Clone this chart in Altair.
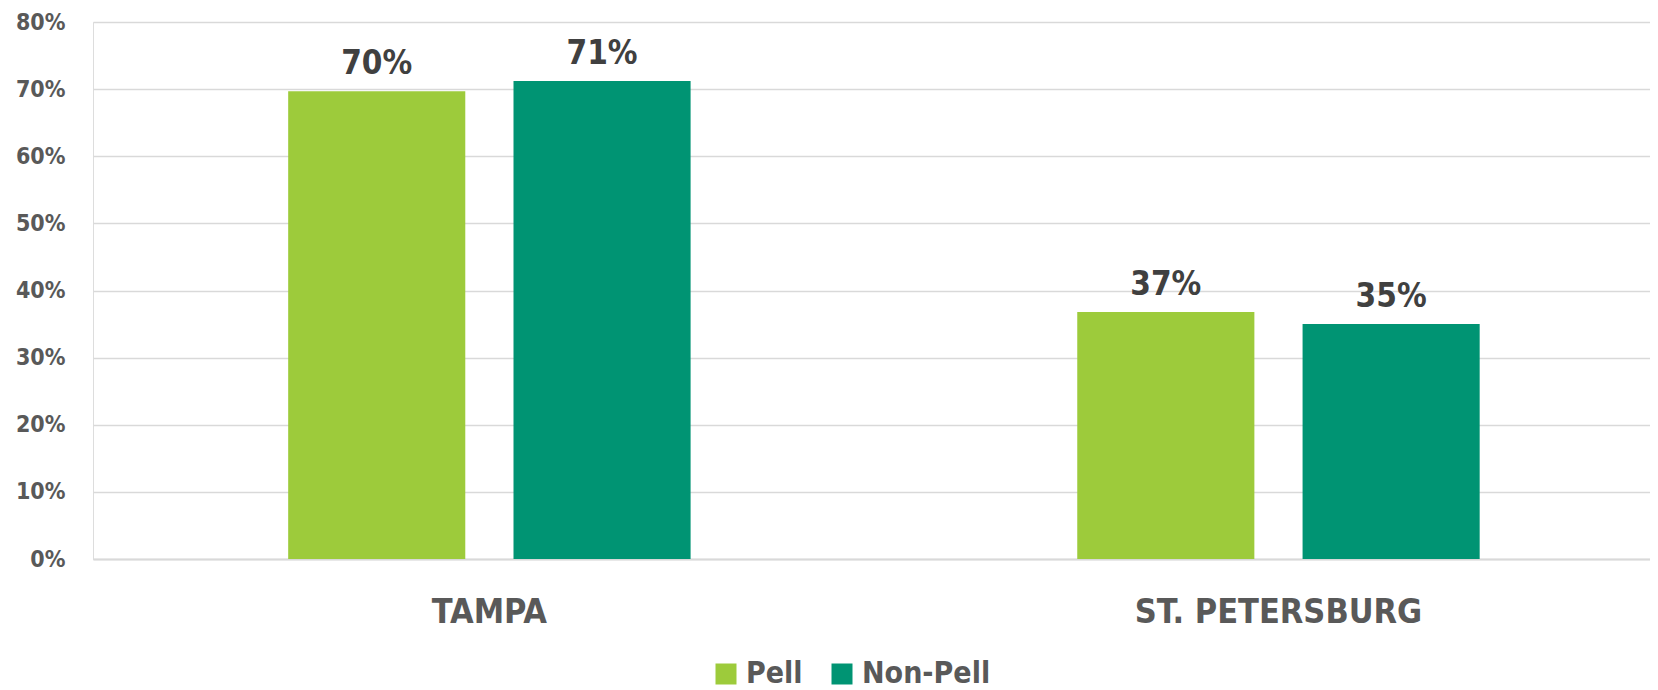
import altair as alt
import pandas as pd

campuses = ["TAMPA", "TAMPA", "ST. PETERSBURG", "ST. PETERSBURG"]
groups = ["Pell", "Non-Pell", "Pell", "Non-Pell"]
values = [69.7, 71.2, 36.8, 35.0]
labels = ["70%", "71%", "37%", "35%"]

campus_order = ["TAMPA", "ST. PETERSBURG"]
group_order = ["Pell", "Non-Pell"]
colors = ["#9DCB3B", "#009473"]

df = pd.DataFrame({"campus": campuses, "group": groups, "value": values, "label": labels})

FONT = "'Liberation Sans Narrow', 'DejaVu Sans Condensed', 'Liberation Sans', sans-serif"

x_enc = alt.X(
    "campus:N",
    sort=campus_order,
    scale=alt.Scale(paddingInner=0.49, paddingOuter=0.2316, align=0.534),
    axis=alt.Axis(
        title=None,
        labelFont=FONT,
        labelFontWeight="bold",
        labelFontSize=34,
        labelColor="#595959",
        labelPadding=36,
        labelLimit=600,
        ticks=False,
        domain=True,
        domainColor="#D9D9D9",
        domainWidth=2,
        labelAngle=0,
    ),
)
xo_enc = alt.XOffset(
    "group:N", sort=group_order, scale=alt.Scale(paddingInner=0.214, paddingOuter=0)
)
y_enc = alt.Y(
    "value:Q",
    scale=alt.Scale(domain=[0, 80], nice=False),
    axis=alt.Axis(
        title=None,
        values=[0, 10, 20, 30, 40, 50, 60, 70, 80],
        labelExpr="datum.value + '%'",
        labelFont=FONT,
        labelFontWeight="bold",
        labelFontSize=23,
        labelColor="#595959",
        labelPadding=28,
        ticks=False,
        domain=False,
        grid=True,
        gridColor="#D9D9D9",
        gridWidth=1.5,
    ),
)

bars = alt.Chart(df).mark_bar().encode(
    x=x_enc,
    xOffset=xo_enc,
    y=y_enc,
    color=alt.Color(
        "group:N",
        sort=group_order,
        scale=alt.Scale(domain=group_order, range=colors),
        legend=alt.Legend(
            title=None,
            orient="none",
            legendX=618,
            legendY=637,
            direction="horizontal",
            symbolType="square",
            symbolSize=441,
            symbolStrokeWidth=0,
            symbolOpacity=1,
            labelFont=FONT,
            labelFontWeight="bold",
            labelFontSize=30,
            labelColor="#595959",
            labelOffset=5,
            columnPadding=24,
            labelLimit=300,
        ),
    ),
)

text = alt.Chart(df).mark_text(
    font=FONT, fontWeight="bold", fontSize=33, color="#404040", baseline="alphabetic", dy=-17
).encode(x=x_enc, xOffset=xo_enc, y=y_enc, text="label:N")

chart = (
    alt.layer(bars, text)
    .properties(
        width=1557,
        height=537,
        autosize=alt.AutoSizeParams(type="none"),
        padding={"left": 85, "top": 14, "right": 0, "bottom": 131},
    )
    .configure_view(stroke=None)
    .configure(background="white")
)

chart.save("out.html", embed_options={"renderer": "svg", "actions": False})
